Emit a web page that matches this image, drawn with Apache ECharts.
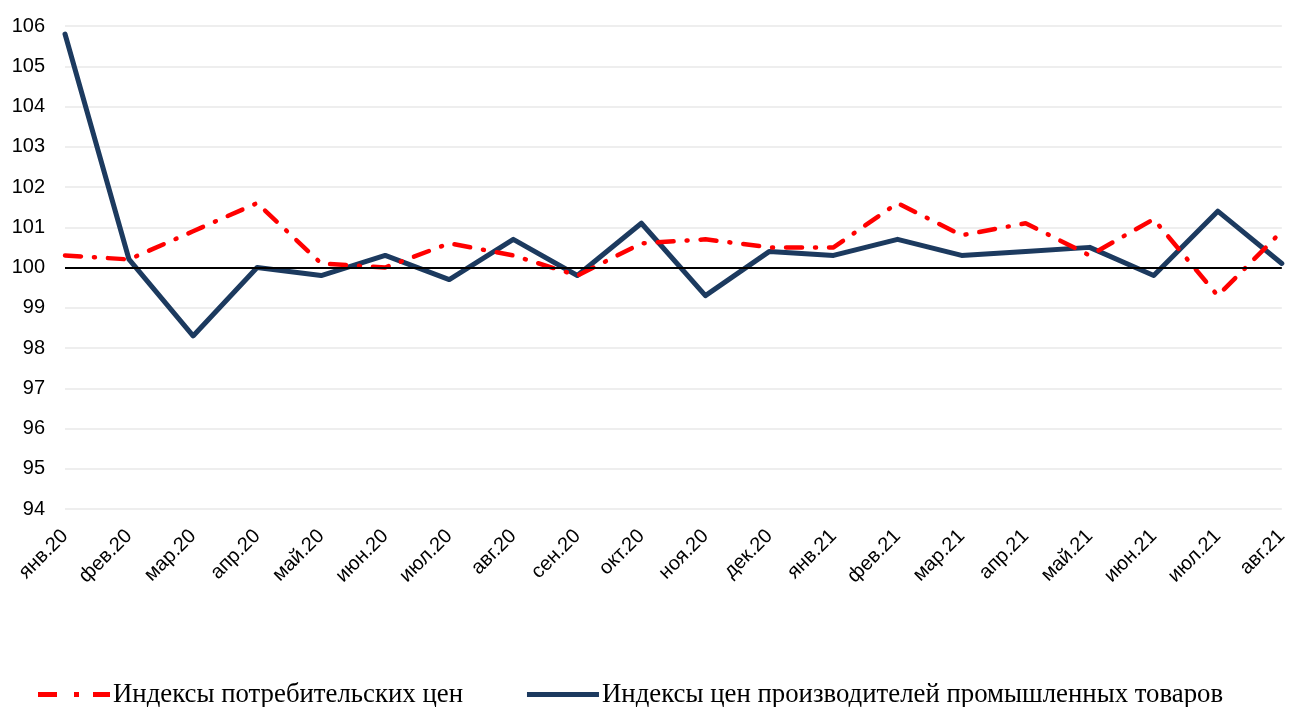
<!DOCTYPE html>
<html><head><meta charset="utf-8">
<script src="https://cdn.jsdelivr.net/npm/echarts@6/dist/echarts.min.js"></script>
<style>html,body{margin:0;padding:0;background:#fff}#c{width:1291px;height:707px}</style>
</head><body><div id="c"></div>
<script>
const categories = ['янв.20','фев.20','мар.20','апр.20','май.20','июн.20','июл.20','авг.20','сен.20','окт.20','ноя.20','дек.20','янв.21','фев.21','мар.21','апр.21','май.21','июн.21','июл.21','авг.21'];
const cpi = [100.3,100.2,100.9,101.6,100.1,100.0,100.6,100.3,99.8,100.6,100.7,100.5,100.5,101.6,100.8,101.1,100.3,101.2,99.3,100.9];
const ppi = [105.8,100.2,98.3,100.0,99.8,100.3,99.7,100.7,99.8,101.1,99.3,100.4,100.3,100.7,100.3,100.4,100.5,99.8,101.4,100.1];
const cpiName = 'Индексы потребительских цен';
const ppiName = 'Индексы цен производителей промышленных товаров';
const yTicks = {min: 94, max: 106, step: 1};
const refLevel = 100;

const chart = echarts.init(document.getElementById('c'));
chart.setOption({
  animation: false,
  grid: {left: 65, right: 3, top: 26, bottom: 198, containLabel: false},
  legend: {
    left: 33, top: 676, itemGap: 64, itemWidth: 72, itemHeight: 5,
    textStyle: {fontFamily: 'Liberation Serif', fontSize: 26.8, color: '#000', padding: [0,0,0,-2]},
    data: [
      {name: cpiName, icon: 'path://M0,0h19v5h-19z M36,0h5v5h-5z M55,0h17v5h-17z', itemStyle: {color: '#ff0000'}},
      {name: ppiName, icon: 'rect', itemStyle: {color: '#1c3a5f'}}
    ]
  },
  xAxis: {
    type: 'category', data: categories, boundaryGap: false,
    axisLine: {show: false}, axisTick: {show: false},
    axisLabel: {rotate: 45, interval: 0, margin: 24, fontFamily: 'Liberation Sans', fontSize: 20, color: '#000'}
  },
  yAxis: {
    type: 'value', min: yTicks.min, max: yTicks.max, interval: yTicks.step,
    axisLine: {show: false}, axisTick: {show: false},
    axisLabel: {margin: 20, fontFamily: 'Liberation Sans', fontSize: 20, color: '#000'},
    splitLine: {lineStyle: {color: '#eeeeee', width: 2}}
  },
  series: [
    {
      name: cpiName, type: 'line', data: cpi, symbol: 'none', z: 4,
      lineStyle: {color: '#ff0000', width: 4.5, type: [16, 13, 1, 13], cap: 'round'},
      itemStyle: {color: '#ff0000'}
    },
    {
      name: ppiName, type: 'line', data: ppi, symbol: 'none', z: 3,
      lineStyle: {color: '#1c3a5f', width: 5, cap: 'round', join: 'round'},
      itemStyle: {color: '#1c3a5f'},
      markLine: {
        silent: true, symbol: 'none', label: {show: false},
        lineStyle: {color: '#000', width: 2, type: 'solid'},
        data: [{yAxis: refLevel}]
      }
    }
  ]
});
</script></body></html>
